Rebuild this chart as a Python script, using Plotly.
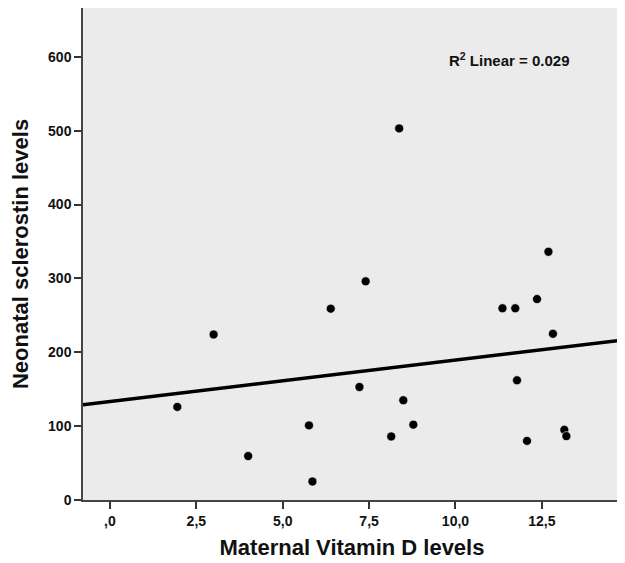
import numpy as np
import plotly.graph_objects as go

vitd = [1.95, 3.00, 4.00, 5.76, 5.86, 6.39, 7.22, 7.40, 8.14, 8.37, 8.49, 8.78,
        11.36, 11.73, 11.78, 12.07, 12.36, 12.69, 12.82, 13.15, 13.21]
scl = [126, 224, 59.5, 101, 25, 259, 153, 296, 86, 503, 135, 102,
       259.5, 259.5, 162, 80, 272, 336, 225, 95, 86.5]

x_tickvals = [0, 2.5, 5.0, 7.5, 10.0, 12.5]
x_ticktext = [",0", "2,5", "5,0", "7,5", "10,0", "12,5"]
y_tickvals = [0, 100, 200, 300, 400, 500, 600]

x_range = [-0.78, 14.79]
y_range = [0, 666]

slope, intercept = np.polyfit(vitd, scl, 1)
lx = np.array(x_range)
ly = slope * lx + intercept

font_family = "Liberation Sans, Arial, sans-serif"
tick_font = dict(family=font_family, size=14, color="#111", weight="bold")
title_font = dict(family=font_family, size=22, color="#111", weight="bold")

fig = go.Figure()
fig.add_trace(go.Scatter(x=lx, y=ly, mode="lines",
                         line=dict(color="black", width=3.5),
                         hoverinfo="skip", showlegend=False))
fig.add_trace(go.Scatter(x=vitd, y=scl, mode="markers",
                         marker=dict(color="black", size=9,
                                     line=dict(color="white", width=0.6)),
                         showlegend=False))

fig.add_annotation(x=11.55, y=596, xref="x", yref="y",
                   text="R<sup>2</sup> Linear = 0.029", showarrow=False,
                   font=dict(family=font_family, size=15, color="#111", weight="bold"))

axis_common = dict(showgrid=False, zeroline=False, showline=True, mirror=True,
                   linecolor="#444", linewidth=1.5, ticks="outside",
                   ticklen=7, tickwidth=1.5, tickcolor="#333",
                   tickfont=tick_font, automargin=False)

fig.update_xaxes(range=x_range, tickvals=x_tickvals, ticktext=x_ticktext,
                 title=dict(text="Maternal Vitamin D levels", standoff=12,
                            font=title_font),
                 **axis_common)
fig.update_yaxes(range=y_range, tickvals=y_tickvals,
                 title=dict(text="Neonatal sclerostin levels", standoff=14,
                            font=title_font),
                 **axis_common)

fig.update_layout(width=617, height=555,
                  margin=dict(l=75, r=4, t=0, b=63),
                  plot_bgcolor="#ebebeb", paper_bgcolor="white",
                  font=dict(family=font_family, color="#111"))
fig.write_html("out.html")
